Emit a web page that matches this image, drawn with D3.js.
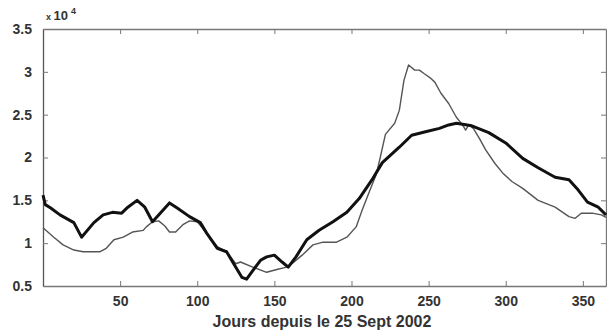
<!DOCTYPE html>
<html><head><meta charset="utf-8">
<script src="https://cdn.jsdelivr.net/npm/d3@7/dist/d3.min.js"></script>
<style>
html,body{margin:0;padding:0;background:#fff;}
svg{display:block;}
text{font-family:"Liberation Sans",Arial,Helvetica,sans-serif;}
</style></head>
<body>
<svg id="chart" width="607" height="331"></svg>
<script>
// values plotted in units of 10^4
const thickDays   = [0,1.5,5,11,20,25,33,39,45,51,55,61,66,71,76,82,87,95,102,106,113,119,125,129,132,136,141,145,150,155,159,164,171,179,188,197,205,214,220,231,239,248,257,263,268,278,289,300,311,321,332,341,347,353,360,365];
const thickValues = [1.56,1.45,1.41,1.33,1.24,1.07,1.24,1.33,1.36,1.35,1.42,1.50,1.42,1.25,1.35,1.47,1.41,1.31,1.24,1.12,0.94,0.90,0.72,0.60,0.58,0.68,0.80,0.84,0.86,0.78,0.72,0.84,1.04,1.15,1.25,1.36,1.52,1.76,1.94,2.12,2.26,2.30,2.34,2.38,2.40,2.37,2.29,2.17,1.99,1.88,1.77,1.74,1.62,1.48,1.42,1.33];
const thinDays   = [0,7,13,20,26,37,41,46,52,58,65,67,71,75,79,82,86,91,95,100,106,113,119,125,128,136,145,151,158,162,168,175,181,190,197,203,207,212,216,218,222,228,231,234,237,241,244,247,251,254,258,263,268,272,274,276,279,283,287,293,298,304,311,321,332,341,345,349,356,362,365];
const thinValues = [1.18,1.07,0.98,0.92,0.90,0.90,0.94,1.04,1.07,1.13,1.15,1.19,1.25,1.26,1.20,1.13,1.13,1.22,1.26,1.25,1.12,0.96,0.90,0.76,0.78,0.72,0.66,0.69,0.72,0.77,0.86,0.98,1.01,1.01,1.07,1.19,1.39,1.62,1.80,1.95,2.27,2.40,2.55,2.90,3.08,3.02,3.02,2.98,2.93,2.88,2.75,2.63,2.47,2.38,2.32,2.38,2.34,2.22,2.09,1.93,1.82,1.72,1.64,1.50,1.42,1.31,1.29,1.35,1.35,1.33,1.30];
const xTicks = [50,100,150,200,250,300,350];
const yTicks = [0.5,1,1.5,2,2.5,3,3.5];
const yTickLabels = ["0.5","1","1.5","2","2.5","3","3.5"];
const xLabel = "Jours depuis le 25 Sept 2002";

const svg = d3.select("#chart");
const L = 43, R = 606, T = 29, B = 286;
const x = d3.scaleLinear().domain([0,365]).range([L,R]);
const y = d3.scaleLinear().domain([0.5,3.5]).range([B,T]);

const axisColor = "#777";
const tickLen = 5;

const gxB = svg.append("g").attr("transform",`translate(0,${B})`)
  .call(d3.axisBottom(x).tickValues(xTicks).tickSizeInner(-tickLen).tickSizeOuter(0).tickPadding(tickLen+5).tickFormat(d3.format("d")));
const gxT = svg.append("g").attr("transform",`translate(0,${T})`)
  .call(d3.axisTop(x).tickValues(xTicks).tickSizeInner(-tickLen).tickSizeOuter(0).tickFormat(""));
const gyL = svg.append("g").attr("transform",`translate(${L},0)`)
  .call(d3.axisLeft(y).tickValues(yTicks).tickSizeInner(-tickLen).tickSizeOuter(0).tickPadding(tickLen+6).tickFormat((d,i)=>yTickLabels[i]));
const gyR = svg.append("g").attr("transform",`translate(${R},0)`)
  .call(d3.axisRight(y).tickValues(yTicks).tickSizeInner(-tickLen).tickSizeOuter(0).tickFormat(""));

[gxB,gxT,gyL,gyR].forEach(g=>{
  g.select(".domain").attr("stroke",axisColor).attr("stroke-width",1.3);
  g.selectAll(".tick line").attr("stroke",axisColor).attr("stroke-width",1);
  g.selectAll(".tick text").attr("fill","#333").style("font-size","14px").style("font-weight","bold")
    .style("font-family","'Liberation Sans',Arial,sans-serif");
});
gyL.select(".domain").attr("stroke","#555");

const thin = thinDays.map((d,i)=>[d,thinValues[i]]);
const thick = thickDays.map((d,i)=>[d,thickValues[i]]);
const line = d3.line().x(d=>x(d[0])).y(d=>y(d[1])).curve(d3.curveLinear);

svg.append("path").datum(thin).attr("d",line).attr("fill","none")
  .attr("stroke","#555").attr("stroke-width",1.4).attr("stroke-linejoin","round");
svg.append("path").datum(thick).attr("d",line).attr("fill","none")
  .attr("stroke","#111").attr("stroke-width",3).attr("stroke-linejoin","round");

svg.append("text").attr("x",322).attr("y",327).attr("text-anchor","middle")
  .attr("fill","#333").style("font-size","16px").style("font-weight","bold").text(xLabel);

const ex = svg.append("text").attr("x",L+3).attr("y",20).attr("fill","#333")
  .style("font-weight","bold");
ex.append("tspan").style("font-size","9px").text("x ");
ex.append("tspan").style("font-size","13px").text("10");
ex.append("tspan").attr("dy",-6).attr("dx",3).style("font-size","9px").text("4");
</script>
</body></html>
